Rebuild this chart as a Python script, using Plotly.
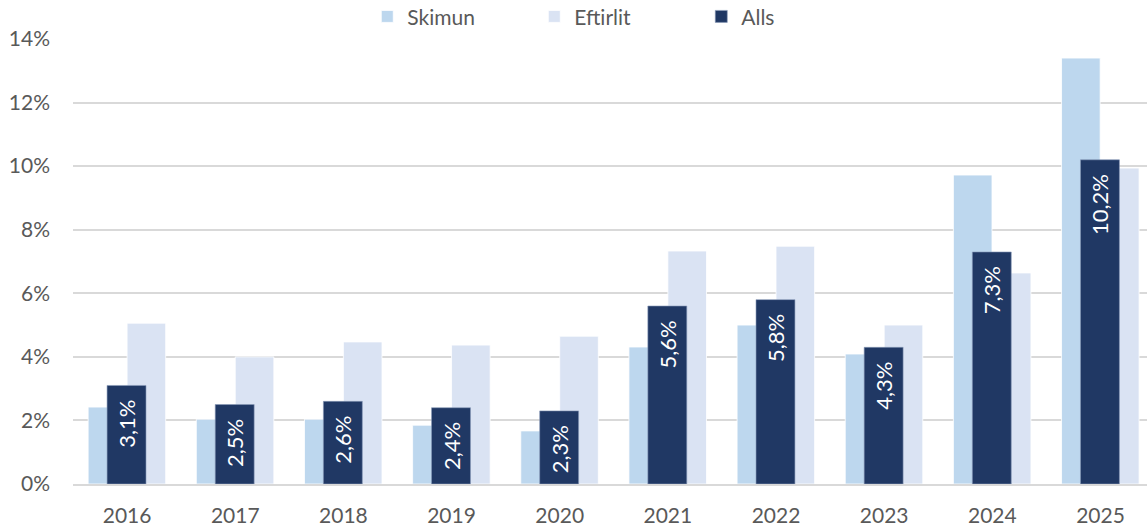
import plotly.graph_objects as go

years = ["2016", "2017", "2018", "2019", "2020", "2021", "2022", "2023", "2024", "2025"]
skimun = [2.42, 2.04, 2.04, 1.85, 1.67, 4.31, 5.0, 4.09, 9.72, 13.4]
eftirlit = [5.06, 4.0, 4.47, 4.37, 4.65, 7.33, 7.48, 5.0, 6.64, 9.94]
alls = [3.1, 2.5, 2.6, 2.4, 2.3, 5.6, 5.8, 4.3, 7.3, 10.2]
alls_labels = ["3,1%", "2,5%", "2,6%", "2,4%", "2,3%", "5,6%", "5,8%", "4,3%", "7,3%", "10,2%"]
y_ticks = [0, 2, 4, 6, 8, 10, 12, 14]
y_tick_text = ["0%", "2%", "4%", "6%", "8%", "10%", "12%", "14%"]

FONT = "Lato"
GRAY = "#595959"
x = list(range(len(years)))
# pad labels so they sit a little below the bar top, as in the original
label_text = [t + "\u00a0\u00a0" for t in alls_labels]

fig = go.Figure()
fig.add_trace(go.Bar(
    x=x, y=skimun, name="Skimun", width=0.357, offset=-0.36,
    marker=dict(color="#BDD7EE", line=dict(color="white", width=0.8)),
    hoverinfo="skip",
))
fig.add_trace(go.Bar(
    x=x, y=eftirlit, name="Eftirlit", width=0.357, offset=0.0,
    marker=dict(color="#DAE3F3", line=dict(color="white", width=0.8)),
    hoverinfo="skip",
))
fig.add_trace(go.Bar(
    x=x, y=alls, name="Alls", width=0.36, offset=-0.185,
    marker=dict(color="#203864", line=dict(color="#8a9ab8", width=0.6)),
    text=label_text, textposition="inside", insidetextanchor="end",
    textangle=-90, textfont=dict(family=FONT, size=22, color="white"),
    hoverinfo="skip",
))

fig.update_layout(
    width=1147, height=528,
    barmode="overlay",
    plot_bgcolor="white", paper_bgcolor="white",
    margin=dict(l=73, r=0, t=39, b=44, autoexpand=False),
    font=dict(family=FONT, size=21, color=GRAY),
    uniformtext=dict(mode=False),
    legend=dict(
        orientation="h", x=0.274, xanchor="left", y=1.05, yanchor="middle",
        entrywidth=122, entrywidthmode="pixels",
        font=dict(family=FONT, size=21, color=GRAY),
        itemclick=False, tracegroupgap=0,
        bgcolor="rgba(0,0,0,0)",
    ),
    showlegend=True,
)
fig.update_xaxes(
    range=[-0.5, 9.43], tickvals=x, ticktext=years,
    showgrid=False, zeroline=False,
    showline=True, linecolor="#D9D9D9", linewidth=2,
    ticks="", ticklabelstandoff=12,
    tickfont=dict(family=FONT, size=21, color=GRAY),
)
fig.update_yaxes(
    range=[0, 14], tickvals=y_ticks, ticktext=y_tick_text,
    showgrid=True, gridcolor="#D9D9D9", gridwidth=2,
    zeroline=False, showline=False, ticks="",
    ticklabelstandoff=22,
    tickfont=dict(family=FONT, size=21, color=GRAY),
)

# remove the browser's default 8px body margin so the figure fills the window
fig.write_html(
    "out.html",
    config={"displayModeBar": False},
    post_script="document.body.style.margin='0';",
)
